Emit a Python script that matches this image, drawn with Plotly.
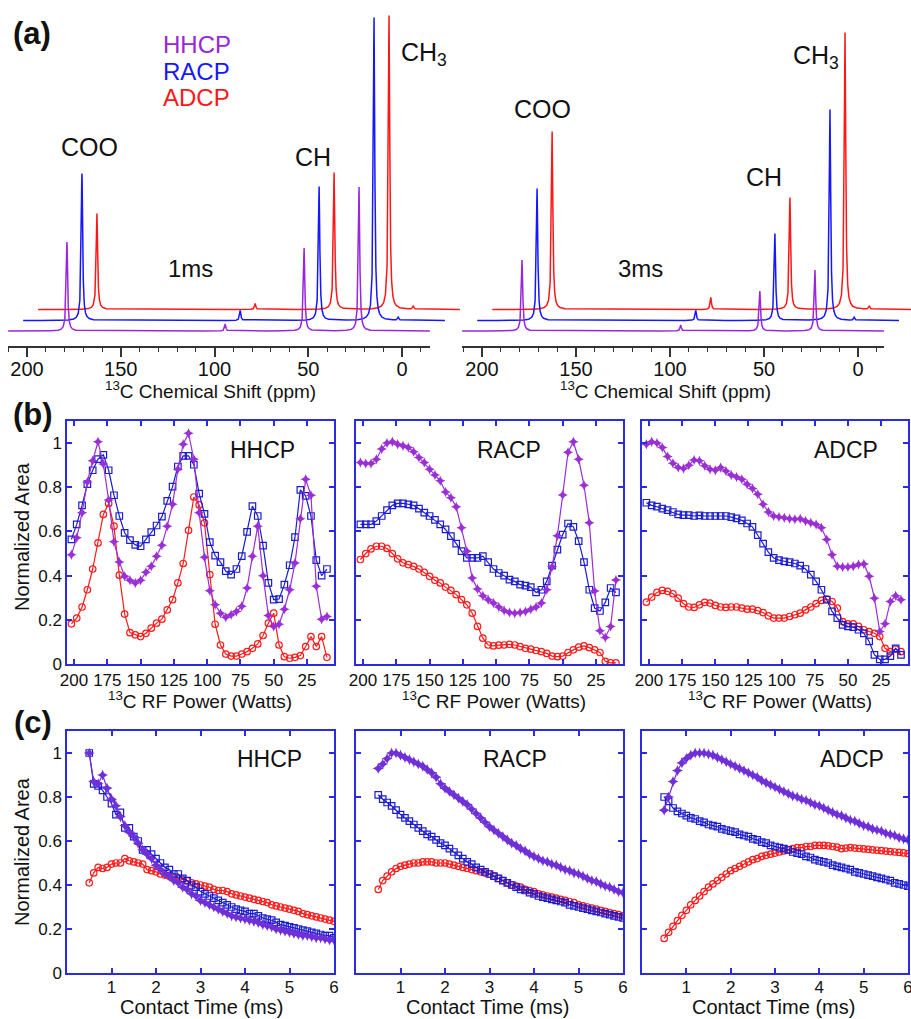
import numpy as np
import plotly.graph_objects as go

W, H = 911, 1019
FONT = "Liberation Sans, Arial, sans-serif"

# ---------------- (a) 13C spectra : peak lists ----------------
PEAK_NAMES = ["COO", "CH", "CH3", "ssb", "minor"]
PEAK_PPM = [178.7, 52.2, 22.9, 94.3, 10.0]
PEAK_HWHM = [0.45, 0.45, 0.45, 0.4, 0.4]
HHCP_1MS = [89, 83, 144, 7, 0]
RACP_1MS = [147, 134, 303, 10, 3]
ADCP_1MS = [96, 137, 294, 6, 3]
HHCP_3MS = [71, 40, 61, 6, 0]
RACP_3MS = [132, 87, 211, 10, 3]
ADCP_3MS = [178, 112, 277, 12, 3]
SEQUENCES = ["HHCP", "RACP", "ADCP"]
COLORS_A = ["#9a26dc", "#1717ff", "#ff1717"]

# ---------------- (b) RF power profiles ----------------
POWER_W = [202, 198, 194, 190, 186, 182, 178, 174, 170, 166, 162, 158, 154, 150, 146, 142,
           138, 134, 130, 126, 122, 118, 114, 110, 106, 102, 98, 94, 90, 86, 82, 78, 74, 70,
           66, 62, 58, 54, 50, 46, 42, 38, 34, 30, 26, 22, 18, 14, 10]
POWER_TICKS = [200, 175, 150, 125, 100, 75, 50, 25]

HHCP_B_PURPLE = [0.495, 0.571, 0.685, 0.824, 0.920, 1.006, 0.905, 0.742, 0.553, 0.462, 0.397,
                 0.379, 0.367, 0.379, 0.415, 0.442, 0.488, 0.538, 0.624, 0.723, 0.882, 0.995,
                 1.044, 0.927, 0.685, 0.483, 0.332, 0.268, 0.230, 0.212, 0.223, 0.238, 0.261,
                 0.344, 0.488, 0.624, 0.400, 0.220, 0.170, 0.180, 0.248, 0.336, 0.457, 0.658,
                 0.836, 0.764, 0.352, 0.203, 0.215]
HHCP_B_BLUE = [0.564, 0.632, 0.718, 0.814, 0.877, 0.927, 0.947, 0.877, 0.764, 0.670, 0.594,
               0.561, 0.539, 0.533, 0.564, 0.597, 0.627, 0.667, 0.738, 0.803, 0.894, 0.942,
               0.942, 0.902, 0.771, 0.680, 0.552, 0.491, 0.461, 0.420, 0.405, 0.430, 0.488,
               0.598, 0.715, 0.670, 0.536, 0.367, 0.291, 0.294, 0.359, 0.447, 0.574, 0.788,
               0.761, 0.670, 0.470, 0.400, 0.430]
HHCP_B_RED = [0.182, 0.208, 0.258, 0.336, 0.430, 0.548, 0.677, 0.727, 0.624, 0.402, 0.226,
              0.142, 0.132, 0.124, 0.139, 0.162, 0.185, 0.203, 0.245, 0.291, 0.367, 0.455,
              0.605, 0.756, 0.720, 0.639, 0.405, 0.180, 0.086, 0.045, 0.036, 0.036, 0.045,
              0.056, 0.071, 0.091, 0.129, 0.185, 0.230, 0.086, 0.033, 0.026, 0.030, 0.038,
              0.079, 0.124, 0.079, 0.124, 0.030]

RACP_B_PURPLE = [0.912, 0.908, 0.908, 0.927, 0.973, 1.000, 1.006, 0.995, 0.988, 0.980, 0.961,
                 0.935, 0.912, 0.882, 0.855, 0.829, 0.779, 0.753, 0.712, 0.617, 0.510, 0.389,
                 0.339, 0.309, 0.291, 0.276, 0.258, 0.242, 0.233, 0.230, 0.233, 0.238, 0.248,
                 0.258, 0.276, 0.336, 0.440, 0.580, 0.765, 0.958, 1.006, 0.927, 0.809, 0.639,
                 0.330, 0.150, 0.120, 0.170, 0.380]
RACP_B_BLUE = [0.632, 0.632, 0.632, 0.647, 0.670, 0.697, 0.718, 0.727, 0.727, 0.723, 0.718,
               0.703, 0.685, 0.670, 0.652, 0.632, 0.609, 0.579, 0.545, 0.511, 0.480, 0.480,
               0.480, 0.488, 0.461, 0.430, 0.412, 0.400, 0.382, 0.374, 0.359, 0.355, 0.348,
               0.324, 0.336, 0.374, 0.445, 0.518, 0.586, 0.636, 0.621, 0.556, 0.461, 0.336,
               0.253, 0.240, 0.279, 0.344, 0.324]
RACP_B_RED = [0.473, 0.500, 0.521, 0.533, 0.533, 0.523, 0.500, 0.476, 0.458, 0.450, 0.442,
              0.430, 0.415, 0.397, 0.379, 0.367, 0.348, 0.333, 0.314, 0.291, 0.268, 0.230,
              0.170, 0.117, 0.086, 0.082, 0.085, 0.086, 0.089, 0.086, 0.079, 0.071, 0.067,
              0.061, 0.056, 0.048, 0.036, 0.033, 0.036, 0.052, 0.064, 0.076, 0.082, 0.074,
              0.064, 0.052, 0.012, 0.005, 0.005]

ADCP_B_PURPLE = [0.995, 1.006, 1.000, 0.980, 0.939, 0.909, 0.889, 0.885, 0.900, 0.924, 0.920,
                 0.897, 0.882, 0.877, 0.889, 0.874, 0.855, 0.847, 0.836, 0.814, 0.794, 0.768,
                 0.723, 0.688, 0.670, 0.665, 0.662, 0.658, 0.655, 0.658, 0.647, 0.639, 0.632,
                 0.617, 0.564, 0.495, 0.442, 0.439, 0.439, 0.442, 0.450, 0.453, 0.397, 0.298,
                 0.147, 0.182, 0.283, 0.309, 0.291]
ADCP_B_BLUE = [0.730, 0.718, 0.712, 0.703, 0.697, 0.688, 0.677, 0.674, 0.674, 0.670, 0.673,
               0.670, 0.670, 0.670, 0.670, 0.670, 0.665, 0.659, 0.650, 0.636, 0.621, 0.583,
               0.545, 0.506, 0.480, 0.470, 0.465, 0.461, 0.455, 0.445, 0.430, 0.405, 0.374,
               0.336, 0.291, 0.238, 0.208, 0.177, 0.170, 0.167, 0.155, 0.139, 0.102, 0.041,
               0.021, 0.021, 0.036, 0.071, 0.041]
ADCP_B_RED = [0.280, 0.303, 0.324, 0.333, 0.329, 0.318, 0.298, 0.273, 0.258, 0.256, 0.268,
              0.279, 0.276, 0.265, 0.258, 0.256, 0.258, 0.258, 0.253, 0.248, 0.248, 0.242,
              0.233, 0.218, 0.208, 0.208, 0.208, 0.215, 0.223, 0.230, 0.245, 0.258, 0.273,
              0.288, 0.294, 0.283, 0.253, 0.192, 0.182, 0.182, 0.170, 0.155, 0.147, 0.139,
              0.124, 0.071, 0.056, 0.067, 0.056]

# ---------------- (c) contact time curves ----------------
TIME_MS = [0.5, 0.6, 0.7, 0.8, 0.9, 1.0, 1.1, 1.2, 1.3, 1.4, 1.5, 1.6, 1.7, 1.8, 1.9, 2.0,
           2.1, 2.2, 2.3, 2.4, 2.5, 2.6, 2.7, 2.8, 2.9, 3.0, 3.1, 3.2, 3.3, 3.4, 3.5, 3.6,
           3.7, 3.8, 3.9, 4.0, 4.1, 4.2, 4.3, 4.4, 4.5, 4.6, 4.7, 4.8, 4.9, 5.0, 5.1, 5.2,
           5.3, 5.4, 5.5, 5.6, 5.7, 5.8, 5.9, 6.0]
TIME_TICKS = [1, 2, 3, 4, 5, 6]

HHCP_C_PURPLE = [1.0, 0.87, 0.86, 0.90, 0.84, 0.79, 0.76, 0.71, 0.67, 0.64, 0.62, 0.59, 0.56,
                 0.54, 0.52, 0.49, 0.47, 0.45, 0.44, 0.42, 0.41, 0.39, 0.38, 0.36, 0.35, 0.33,
                 0.32, 0.31, 0.30, 0.29, 0.28, 0.27, 0.26, 0.255, 0.25, 0.245, 0.24, 0.235,
                 0.23, 0.22, 0.215, 0.21, 0.20, 0.195, 0.19, 0.185, 0.18, 0.175, 0.17, 0.17,
                 0.165, 0.16, 0.16, 0.155, 0.15, 0.15]
HHCP_C_BLUE = [1.0, 0.86, 0.85, 0.83, 0.80, 0.77, 0.72, 0.73, 0.66, 0.66, 0.62, 0.60, 0.56,
               0.56, 0.54, 0.52, 0.50, 0.48, 0.47, 0.45, 0.45, 0.43, 0.42, 0.40, 0.39, 0.37,
               0.36, 0.35, 0.34, 0.33, 0.32, 0.31, 0.30, 0.29, 0.285, 0.28, 0.27, 0.27, 0.26,
               0.25, 0.245, 0.24, 0.23, 0.22, 0.215, 0.21, 0.205, 0.20, 0.195, 0.19, 0.185,
               0.18, 0.175, 0.17, 0.17, 0.16]
HHCP_C_RED = [0.41, 0.455, 0.48, 0.475, 0.48, 0.495, 0.50, 0.50, 0.52, 0.51, 0.505, 0.50,
              0.495, 0.47, 0.465, 0.46, 0.45, 0.445, 0.44, 0.435, 0.43, 0.425, 0.42, 0.41,
              0.405, 0.40, 0.395, 0.39, 0.38, 0.375, 0.375, 0.37, 0.36, 0.355, 0.35, 0.345,
              0.34, 0.335, 0.33, 0.325, 0.32, 0.31, 0.305, 0.30, 0.295, 0.29, 0.285, 0.28,
              0.27, 0.265, 0.26, 0.255, 0.25, 0.245, 0.24, 0.235]

RACP_C_PURPLE = [0.93, 0.95, 0.975, 1.0, 1.0, 0.99, 0.98, 0.97, 0.96, 0.95, 0.94, 0.925, 0.91,
                 0.89, 0.86, 0.84, 0.825, 0.81, 0.795, 0.78, 0.765, 0.745, 0.725, 0.705, 0.685,
                 0.665, 0.65, 0.635, 0.62, 0.605, 0.59, 0.58, 0.565, 0.555, 0.54, 0.53, 0.52,
                 0.51, 0.505, 0.495, 0.49, 0.48, 0.47, 0.465, 0.455, 0.45, 0.44, 0.43, 0.42,
                 0.415, 0.405, 0.395, 0.39, 0.38, 0.37, 0.365]
RACP_C_BLUE = [0.81, 0.79, 0.775, 0.76, 0.74, 0.72, 0.705, 0.69, 0.675, 0.66, 0.645, 0.63,
               0.62, 0.605, 0.59, 0.58, 0.565, 0.55, 0.535, 0.52, 0.505, 0.495, 0.48, 0.47,
               0.46, 0.45, 0.44, 0.43, 0.42, 0.41, 0.40, 0.39, 0.38, 0.375, 0.365, 0.36, 0.35,
               0.345, 0.34, 0.335, 0.33, 0.325, 0.32, 0.31, 0.305, 0.30, 0.295, 0.29, 0.285,
               0.28, 0.275, 0.27, 0.265, 0.26, 0.255, 0.25]
RACP_C_RED = [0.38, 0.42, 0.44, 0.46, 0.475, 0.485, 0.49, 0.495, 0.50, 0.50, 0.505, 0.505,
              0.505, 0.50, 0.50, 0.50, 0.495, 0.49, 0.485, 0.48, 0.475, 0.47, 0.465, 0.46,
              0.455, 0.45, 0.44, 0.43, 0.42, 0.41, 0.40, 0.395, 0.39, 0.38, 0.375, 0.37, 0.36,
              0.355, 0.35, 0.345, 0.34, 0.335, 0.33, 0.325, 0.32, 0.31, 0.305, 0.30, 0.295,
              0.29, 0.285, 0.28, 0.275, 0.27, 0.265, 0.26]

ADCP_C_PURPLE = [0.74, 0.80, 0.87, 0.92, 0.955, 0.975, 0.99, 1.0, 1.0, 1.0, 0.995, 0.99, 0.98,
                 0.97, 0.96, 0.95, 0.94, 0.93, 0.92, 0.91, 0.90, 0.89, 0.875, 0.865, 0.855,
                 0.845, 0.835, 0.825, 0.815, 0.805, 0.80, 0.79, 0.785, 0.775, 0.765, 0.76, 0.75,
                 0.74, 0.73, 0.72, 0.715, 0.705, 0.695, 0.69, 0.68, 0.67, 0.665, 0.655, 0.65,
                 0.645, 0.635, 0.63, 0.625, 0.615, 0.61, 0.605]
ADCP_C_BLUE = [0.80, 0.78, 0.75, 0.735, 0.725, 0.715, 0.705, 0.70, 0.69, 0.685, 0.675, 0.67,
               0.665, 0.655, 0.65, 0.645, 0.64, 0.63, 0.625, 0.62, 0.61, 0.605, 0.595, 0.59,
               0.58, 0.575, 0.57, 0.565, 0.56, 0.55, 0.545, 0.54, 0.53, 0.525, 0.515, 0.51,
               0.505, 0.50, 0.49, 0.485, 0.48, 0.475, 0.47, 0.46, 0.455, 0.45, 0.445, 0.44,
               0.435, 0.43, 0.425, 0.42, 0.41, 0.405, 0.40, 0.395]
ADCP_C_RED = [0.157, 0.185, 0.212, 0.238, 0.262, 0.285, 0.31, 0.33, 0.35, 0.37, 0.39, 0.405,
              0.42, 0.435, 0.45, 0.465, 0.475, 0.485, 0.495, 0.505, 0.515, 0.52, 0.53, 0.535,
              0.54, 0.545, 0.55, 0.555, 0.56, 0.565, 0.57, 0.57, 0.575, 0.575, 0.58, 0.58,
              0.58, 0.578, 0.575, 0.572, 0.565, 0.568, 0.57, 0.568, 0.566, 0.564, 0.562, 0.56,
              0.558, 0.556, 0.554, 0.552, 0.55, 0.548, 0.546, 0.543]

# ---------------- helpers ----------------
def xdom(a, b):
    return [a / W, b / W]

def ydom(top, bottom):
    return [1 - bottom / H, 1 - top / H]

def px(x):
    return x / W

def py(y):
    return 1 - y / H

fig = go.Figure()

# ---------------- (a) spectra ----------------
ppm_grid = np.union1d(np.arange(-15.0, 211.0, 0.05), PEAK_PPM)

def lorentz_sum(heights):
    y = np.zeros_like(ppm_grid)
    for c, g, h in zip(PEAK_PPM, PEAK_HWHM, heights):
        y = y + h / (1.0 + ((ppm_grid - c) / g) ** 2)
    return y

LAYER_DX = 8.0                   # ppm shift of each stacked layer (pseudo 3D)
LAYER_BASE = [15.0, 25.5, 36.5]  # baseline of each layer (axis units)

spec_panels = [
    ("x", "y", -14.9, 210.1, [HHCP_1MS, RACP_1MS, ADCP_1MS]),
    ("x3", "y2", -13.8, 210.6, [HHCP_3MS, RACP_3MS, ADCP_3MS]),
]
for xa, ya, lo, hi, sets in spec_panels:
    m = (ppm_grid >= lo) & (ppm_grid <= hi)
    for k in [2, 1, 0]:
        fig.add_trace(go.Scatter(
            x=ppm_grid[m] - k * LAYER_DX, y=LAYER_BASE[k] + lorentz_sum(sets[k])[m],
            mode="lines", line=dict(color=COLORS_A[k], width=1.5),
            xaxis=xa, yaxis=ya, showlegend=False, hoverinfo="skip"))
# empty traces so the bare ppm axes get their subplots
fig.add_trace(go.Scatter(x=[], y=[], xaxis="x2", yaxis="y", showlegend=False))
fig.add_trace(go.Scatter(x=[], y=[], xaxis="x4", yaxis="y2", showlegend=False))

# ---------------- (b), (c) ----------------
PURPLE_B = "#9b2fd6"
PURPLE_C = "#7030d8"
BLUE_M = "#1c1cd0"
RED_M = "#ff1a1a"

def add_curves(xv, red, blue, purple, xa, ya, purple_col, msize, psize):
    fig.add_trace(go.Scatter(x=xv, y=red, mode="lines+markers", xaxis=xa, yaxis=ya,
                             line=dict(color=RED_M, width=1.2),
                             marker=dict(symbol="circle-open", size=msize, color=RED_M,
                                         line=dict(width=1.2, color=RED_M)),
                             showlegend=False, hoverinfo="skip"))
    fig.add_trace(go.Scatter(x=xv, y=blue, mode="lines+markers", xaxis=xa, yaxis=ya,
                             line=dict(color=BLUE_M, width=1.2),
                             marker=dict(symbol="square-open", size=msize, color=BLUE_M,
                                         line=dict(width=1.2, color=BLUE_M)),
                             showlegend=False, hoverinfo="skip"))
    fig.add_trace(go.Scatter(x=xv, y=purple, mode="lines+markers", xaxis=xa, yaxis=ya,
                             line=dict(color=purple_col, width=1.2),
                             marker=dict(symbol="star-diamond", size=psize, color=purple_col,
                                         line=dict(width=0)),
                             showlegend=False, hoverinfo="skip"))

add_curves(POWER_W, HHCP_B_RED, HHCP_B_BLUE, HHCP_B_PURPLE, "x5", "y3", PURPLE_B, 6.5, 7.5)
add_curves(POWER_W, RACP_B_RED, RACP_B_BLUE, RACP_B_PURPLE, "x6", "y4", PURPLE_B, 6.5, 7.5)
add_curves(POWER_W, ADCP_B_RED, ADCP_B_BLUE, ADCP_B_PURPLE, "x7", "y5", PURPLE_B, 6.5, 7.5)
add_curves(TIME_MS, HHCP_C_RED, HHCP_C_BLUE, HHCP_C_PURPLE, "x8", "y6", PURPLE_C, 6.5, 8)
add_curves(TIME_MS, RACP_C_RED, RACP_C_BLUE, RACP_C_PURPLE, "x9", "y7", PURPLE_C, 6.5, 8)
add_curves(TIME_MS, ADCP_C_RED, ADCP_C_BLUE, ADCP_C_PURPLE, "x10", "y8", PURPLE_C, 6.5, 8)

# ---------------- axes ----------------
FRAME = "#2b2be0"
hidden = dict(visible=False, showgrid=False, zeroline=False, fixedrange=True)
ppm_axis = dict(showline=True, linecolor="#333", linewidth=1.6, ticks="outside", ticklen=9,
                tickwidth=1.5, tickcolor="#333", dtick=50, tick0=0, showgrid=False,
                zeroline=False, automargin=False, ticklabelstandoff=-5,
                tickfont=dict(size=20, color="#111", family=FONT),
                minor=dict(dtick=10, tick0=0, ticks="outside", ticklen=4, tickwidth=1.2,
                           tickcolor="#333", showgrid=False))

frame = dict(showline=True, linecolor=FRAME, linewidth=1.5, mirror="ticks", ticks="inside",
             ticklen=5, tickwidth=1.5, tickcolor=FRAME, showgrid=False, zeroline=False,
             automargin=False, ticklabeloverflow="allow",
             tickfont=dict(size=17, color="#111", family=FONT))

YT = [0, 0.2, 0.4, 0.6, 0.8, 1.0]
YTT = ["0", "0.2", "0.4", "0.6", "0.8", "1"]

layout = dict(
    width=W, height=H, autosize=False, template="none",
    margin=dict(l=0, r=0, t=0, b=0, pad=0),
    paper_bgcolor="white", plot_bgcolor="rgba(0,0,0,0)",
    font=dict(family=FONT, color="#111"),
    showlegend=False,
    xaxis=dict(domain=xdom(8, 460), range=[210.13, 210.13 - 452 / 1.875], anchor="y", **hidden),
    xaxis2=dict(domain=xdom(8, 430), range=[210.13, -14.93], anchor="y", **ppm_axis),
    yaxis=dict(domain=ydom(0, 346), range=[0, 346], anchor="x", **hidden),
    xaxis3=dict(domain=xdom(462, 911), range=[210.64, 210.64 - 449 / 1.88], anchor="y2", **hidden),
    xaxis4=dict(domain=xdom(462, 884), range=[210.64, -13.83], anchor="y2", **ppm_axis),
    yaxis2=dict(domain=ydom(0, 346), range=[0, 346], anchor="x3", **hidden),
)

bcols = [(67, 334), (356, 623), (642, 908)]
for i, (a, b) in enumerate(bcols):
    xn, yn = 5 + i, 3 + i
    layout[f"xaxis{xn}"] = dict(domain=xdom(a, b), range=[205.3, 4.7], anchor=f"y{yn}",
                                tickvals=POWER_TICKS, ticktext=[str(t) for t in POWER_TICKS],
                                **frame)
    layout[f"yaxis{yn}"] = dict(domain=ydom(421, 664), range=[0, 1.1], anchor=f"x{xn}",
                                tickvals=YT, ticktext=YTT, showticklabels=(i == 0), **frame)
    xn, yn = 8 + i, 6 + i
    layout[f"xaxis{xn}"] = dict(domain=xdom(a, b), range=[0, 6], anchor=f"y{yn}",
                                tickvals=TIME_TICKS, ticktext=[str(t) for t in TIME_TICKS],
                                ticklabelstandoff=-2, **frame)
    layout[f"yaxis{yn}"] = dict(domain=ydom(731, 973), range=[0, 1.1], anchor=f"x{xn}",
                                tickvals=YT, ticktext=YTT, showticklabels=(i == 0), **frame)

fig.update_layout(**layout)

# ---------------- text ----------------
def note(text, x, y, size, color="#111", xanchor="center", bold=False, angle=0):
    fig.add_annotation(text=f"<b>{text}</b>" if bold else text, x=px(x), y=py(y),
                       xref="paper", yref="paper", showarrow=False, xanchor=xanchor,
                       yanchor="middle", textangle=angle,
                       font=dict(size=size, color=color, family=FONT))

note("(a)", 32, 33, 31, bold=True)
note("(b)", 33, 414, 31, bold=True)
note("(c)", 33, 722, 31, bold=True)

for name, col, yy in zip(SEQUENCES, COLORS_A, [44, 71, 97]):
    note(name, 161, yy, 24, color=col, xanchor="left")

note("COO", 89, 147, 25)
note("CH", 313, 157, 25)
note("CH<sub>3</sub>", 399, 54, 25, xanchor="left")
note("1ms", 190, 268, 24)
note("COO", 542, 109, 25)
note("CH", 764, 177, 25)
note("CH<sub>3</sub>", 791, 57, 25, xanchor="left")
note("3ms", 640, 268, 24)

note("<sup>13</sup>C Chemical Shift (ppm)", 210, 390, 19)
note("<sup>13</sup>C Chemical Shift (ppm)", 665, 390, 19)

for xc in [200, 494, 780]:
    note("<sup>13</sup>C RF Power (Watts)", xc, 700, 19)
for xc in [201, 488, 773]:
    note("Contact Time (ms)", xc, 1007, 20)

note("Normalized Area", 22, 537, 20, angle=-90)
note("Normalized Area", 22, 852, 20, angle=-90)

for name, xc in zip(SEQUENCES, [262, 509, 846]):
    note(name, xc, 450, 23)
for name, xc in zip(SEQUENCES, [269, 515, 852]):
    note(name, xc, 759, 23)

fig.write_html("out.html", config={"displayModeBar": False},
               post_script="document.body.style.margin='0';document.body.style.padding='0';")
